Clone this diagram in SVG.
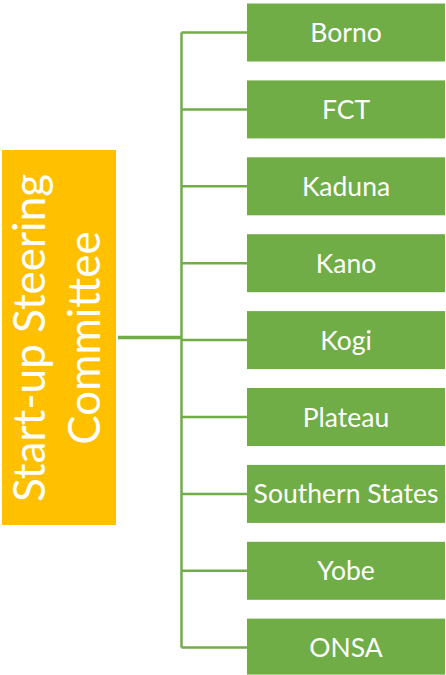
<svg xmlns="http://www.w3.org/2000/svg" width="446" height="675" viewBox="0 0 446 675">
  <style>
    .state rect { fill: #70AD47; }
    .state text { fill: #FFFFFF; font-family: Lato, "Open Sans", sans-serif; font-size: 26.5px; text-anchor: middle; }
    .link { stroke: #70AD47; stroke-width: 2.5; fill: none; }
    .trunk { stroke: #70AD47; stroke-width: 3.5; fill: none; }
    #committee rect { fill: #FFC000; }
    #committee text { fill: #FFFFFF; font-family: Lato, "Open Sans", sans-serif; font-size: 44px; text-anchor: middle; }
  </style>

  <!-- connectors -->
  <g id="connectors">
    <line class="trunk" x1="118" y1="337.5" x2="181.5" y2="337.5"/>
    <line class="link" x1="181.5" y1="32.5" x2="181.5" y2="647.6"/>
    <line class="link" x1="181.5" y1="32.5" x2="247" y2="32.5"/>
    <line class="link" x1="181.5" y1="109.4" x2="247" y2="109.4"/>
    <line class="link" x1="181.5" y1="186.3" x2="247" y2="186.3"/>
    <line class="link" x1="181.5" y1="263.2" x2="247" y2="263.2"/>
    <line class="link" x1="181.5" y1="340.1" x2="247" y2="340.1"/>
    <line class="link" x1="181.5" y1="417" x2="247" y2="417"/>
    <line class="link" x1="181.5" y1="493.9" x2="247" y2="493.9"/>
    <line class="link" x1="181.5" y1="570.8" x2="247" y2="570.8"/>
    <line class="link" x1="181.5" y1="647.6" x2="247" y2="647.6"/>
  </g>

  <!-- root node -->
  <g id="committee">
    <rect x="2" y="150" width="114" height="375"/>
    <g transform="translate(59,338) rotate(-90)">
      <text x="0" y="-14">Start-up Steering</text>
      <text x="0" y="41">Committee</text>
    </g>
  </g>

  <!-- state nodes -->
  <g id="borno" class="state"><rect x="247" y="3.5" width="198" height="58"/><text x="346" y="42">Borno</text></g>
  <g id="fct" class="state"><rect x="247" y="80.4" width="198" height="58"/><text x="346" y="118.9">FCT</text></g>
  <g id="kaduna" class="state"><rect x="247" y="157.3" width="198" height="58"/><text x="346" y="195.8">Kaduna</text></g>
  <g id="kano" class="state"><rect x="247" y="234.2" width="198" height="58"/><text x="346" y="272.7">Kano</text></g>
  <g id="kogi" class="state"><rect x="247" y="311.1" width="198" height="58"/><text x="346" y="349.6">Kogi</text></g>
  <g id="plateau" class="state"><rect x="247" y="388" width="198" height="58"/><text x="346" y="426.5">Plateau</text></g>
  <g id="southern-states" class="state"><rect x="247" y="464.9" width="198" height="58"/><text x="346" y="503.4">Southern States</text></g>
  <g id="yobe" class="state"><rect x="247" y="541.8" width="198" height="58"/><text x="346" y="580.3">Yobe</text></g>
  <g id="onsa" class="state"><rect x="247" y="618.6" width="198" height="56"/><text x="346" y="657.1">ONSA</text></g>
</svg>
